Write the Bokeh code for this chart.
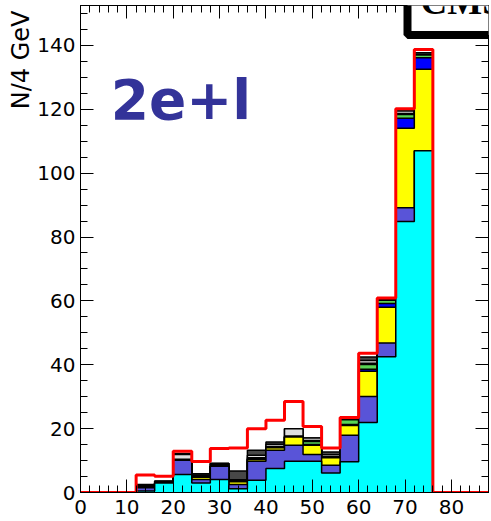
import numpy as np

from bokeh.plotting import figure
from bokeh.models import Range1d, LinearAxis, FixedTicker, Label, Title
from bokeh.embed import file_html
from bokeh.resources import INLINE

# 4 GeV bins from 0 to 88
bin_edges = list(range(0, 92, 4))
n_bins = len(bin_edges) - 1
first_filled = 3  # bin 12-16

# stacked contributions per bin, 12-16 ... 72-76 (bottom to top)
cyan_vals   = [0.5, 3.0, 5.6, 3.0, 4.05, 1.2, 3.8, 7.5, 9.8, 9.8, 6.1, 9.6, 21.9, 42.5, 84.9, 107.0]
slate_vals  = [1.0, 0.0, 4.5, 1.1, 4.15, 1.3, 6.0, 5.7, 5.0, 2.1, 2.4, 8.3, 8.2, 4.3, 4.3, 0.0]
yellow_vals = [0.0, 0.0, 0.0, 0.7, 0.0, 0.9, 0.5, 0.8, 2.6, 2.9, 2.4, 3.1, 7.9, 11.2, 24.9, 25.5]
blue_vals   = [0.0, 0.0, 0.0, 0.0, 0.0, 0.0, 0.0, 0.0, 0.0, 0.2, 0.0, 0.3, 0.6, 1.2, 3.1, 3.6]
green_vals  = [0.0, 0.0, 0.0, 0.0, 0.0, 0.0, 0.0, 0.0, 0.0, 1.0, 0.0, 1.5, 1.5, 1.0, 1.2, 0.9]
black_vals  = [0.3, 0.5, 0.3, 0.6, 0.85, 0.6, 0.6, 0.4, 0.3, 0.3, 0.3, 0.3, 0.4, 0.2, 0.3, 0.3]
lgray_vals  = [0.4, 0.0, 1.5, 0.0, 0.0, 0.0, 0.8, 0.7, 2.3, 0.8, 0.6, 0.0, 0.8, 0.0, 0.8, 0.4]
dgray_vals  = [0.3, 0.0, 0.3, 0.5, 0.0, 2.7, 1.5, 0.7, 0.0, 0.0, 0.9, 0.0, 1.1, 0.0, 0.0, 0.0]

# total shown as the red outline
total_vals  = [5.5, 5.1, 12.9, 9.7, 13.8, 13.9, 20.0, 22.6, 28.5, 20.7, 13.9, 23.5, 43.6, 60.9, 120.2, 138.7]

layer_colors = ["#00ffff", "#5954d8", "#ffff00", "#0000ff", "#59d454",
                "#000000", "#dedede", "#474747"]

x_major = list(range(0, 90, 10))
x_minor = list(range(0, 90, 2))
y_major = list(range(0, 160, 20))
y_minor = list(range(0, 155, 5))


def full(vals):
    out = np.zeros(n_bins)
    out[first_filled:first_filled + len(vals)] = vals
    return out


def stepped(arr):
    # repeat the last bin so a step drawn "after" covers the final bin
    return list(arr) + [arr[-1]]


layers = [cyan_vals, slate_vals, yellow_vals, blue_vals, green_vals,
          black_vals, lgray_vals, dgray_vals]
cumulative = np.cumsum([full(v) for v in layers], axis=0)

p = figure(width=491, height=521,
           x_range=Range1d(0, 88), y_range=Range1d(0, 152.5),
           output_backend="svg", toolbar_location=None,
           min_border_left=80, min_border_right=3,
           min_border_top=5, min_border_bottom=29)
p.background_fill_color = "white"
p.border_fill_color = "white"
p.grid.visible = False
p.outline_line_color = "black"
p.outline_line_width = 1

# stacked histograms, drawn from the largest cumulative sum downwards
for k in range(len(layers) - 1, -1, -1):
    top = stepped(cumulative[k])
    p.varea_step(x=bin_edges, y1=[0] * len(bin_edges), y2=top,
                 step_mode="after", fill_color=layer_colors[k])
    p.step(x=bin_edges, y=top, mode="after",
           line_color="black", line_width=1.5)

p.step(x=bin_edges, y=stepped(full(total_vals)), mode="after",
       line_color="#ff0000", line_width=3)


def style_axis(ax, major, minor, labels=True):
    ax.ticker = FixedTicker(ticks=major, minor_ticks=minor)
    ax.major_tick_in = 13
    ax.major_tick_out = 0
    ax.minor_tick_in = 7
    ax.minor_tick_out = 0
    ax.axis_line_color = "black"
    ax.major_tick_line_color = "black"
    ax.minor_tick_line_color = "black"
    if labels:
        ax.major_label_text_font = "DejaVu Sans"
        ax.major_label_text_font_size = "20px"
        ax.major_label_text_color = "black"
    else:
        ax.major_label_overrides = {t: "" for t in major}
        ax.major_label_text_font_size = "0px"
        ax.major_label_standoff = 0


style_axis(p.xaxis[0], x_major, x_minor)
p.xaxis[0].major_label_standoff = 7
style_axis(p.yaxis[0], y_major, y_minor)
p.yaxis[0].major_label_standoff = 5

top_axis = LinearAxis()
style_axis(top_axis, x_major, x_minor, labels=False)
p.add_layout(top_axis, "above")

right_axis = LinearAxis()
style_axis(right_axis, y_major, y_minor, labels=False)
p.add_layout(right_axis, "right")

# y-axis title, pushed to the top end of the axis
p.add_layout(Title(text="N/4 GeV", align="right", offset=5, standoff=0,
                   text_font="DejaVu Sans", text_font_style="normal",
                   text_font_size="24px", text_color="black"), "left")

# channel tag
p.add_layout(Label(x=6.5, y=122.9, text="2e+l",
                   text_font="DejaVu Sans", text_font_style="bold",
                   text_font_size="55px", text_color="#333399",
                   text_baseline="alphabetic"))

# experiment box in the corner
p.add_layout(Label(x=327, y=491, x_units="screen", y_units="screen",
                   text="CMS", text_font="Liberation Serif",
                   text_font_style="bold", text_font_size="37px",
                   text_color="black", text_baseline="alphabetic",
                   background_fill_color="white",
                   border_line_color="black", border_line_width=8,
                   padding=13))

open("out.html", "w").write(file_html(p, INLINE))
